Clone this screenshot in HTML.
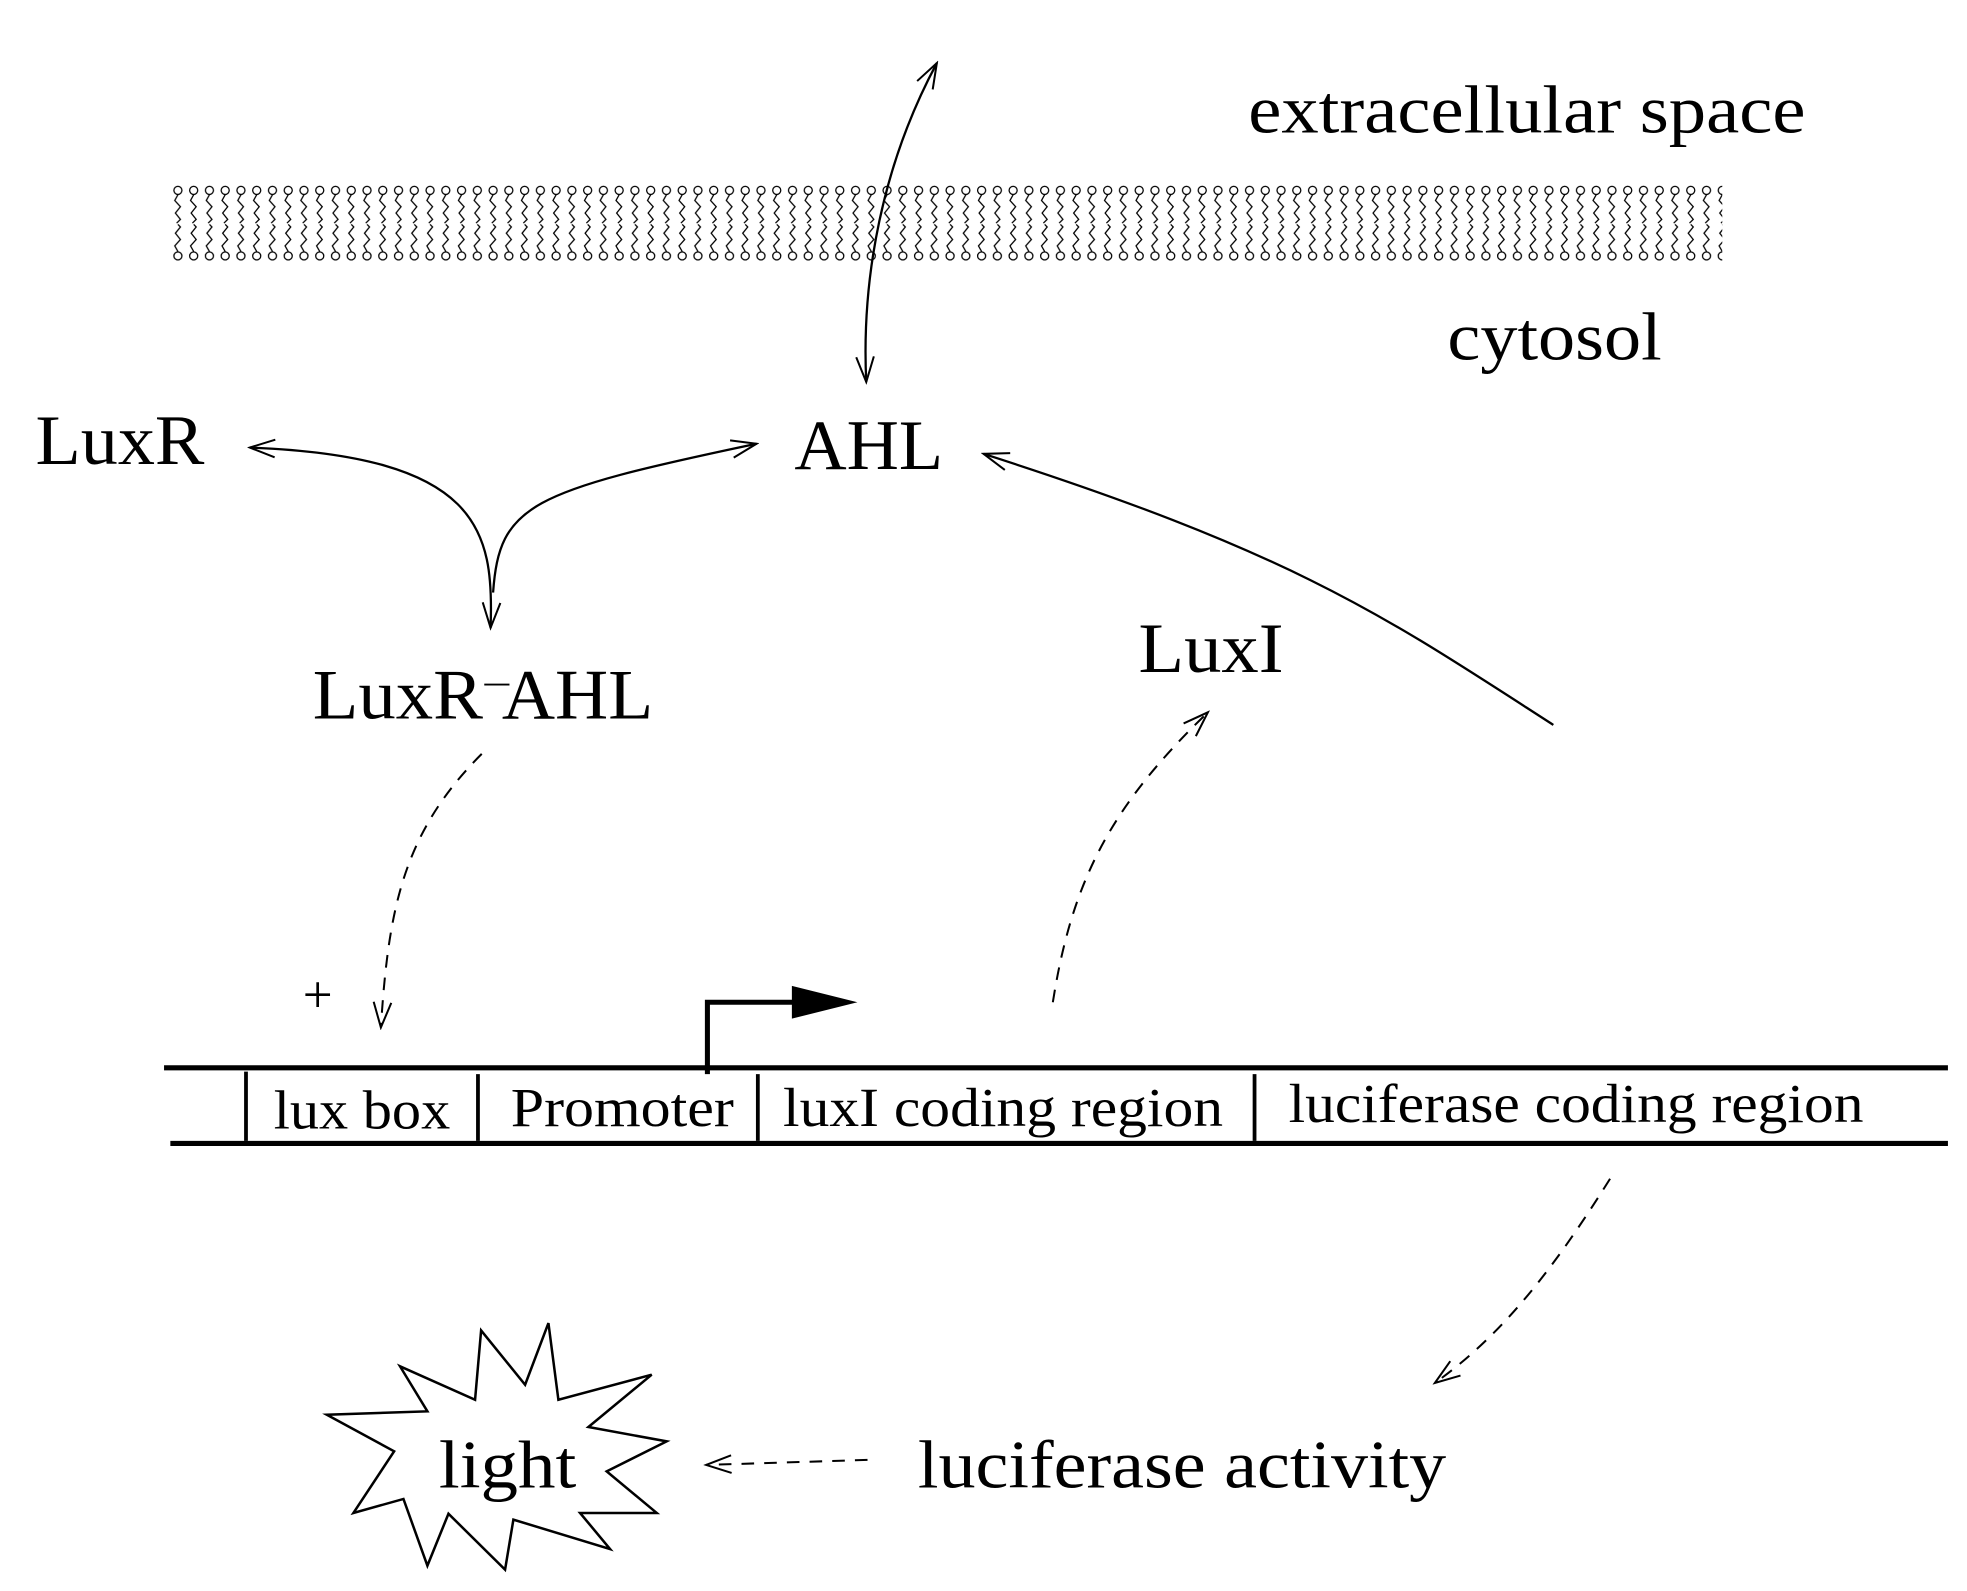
<!DOCTYPE html>
<html><head><meta charset="utf-8"><style>html,body{margin:0;padding:0;background:#fff}svg{display:block}</style></head>
<body>
<svg width="1967" height="1591" viewBox="0 0 1560 1262" xmlns="http://www.w3.org/2000/svg" font-family="'Liberation Serif', serif">
<defs>
<pattern id="lip" x="135" y="0" width="12.5" height="1262" patternUnits="userSpaceOnUse">
<g fill="none" stroke="#000" stroke-width="1">
<circle cx="6" cy="151" r="3.2"/>
<polyline points="6,154.5 3.5,159 8,164 4,169 8,174 5,177"/>
<circle cx="6" cy="203" r="3.2"/>
<polyline points="6,199.5 3.5,195 8,190 4,185 8,180 6,178"/>
</g>
</pattern>
<marker id="ah" markerWidth="24" markerHeight="16" refX="22" refY="8" orient="auto" markerUnits="userSpaceOnUse">
<path d="M2,1 L22,8 L2,15" fill="none" stroke="#000" stroke-width="1.6"/>
</marker>
<marker id="ahs" markerWidth="24" markerHeight="16" refX="22" refY="8" orient="auto-start-reverse" markerUnits="userSpaceOnUse">
<path d="M2,1 L22,8 L2,15" fill="none" stroke="#000" stroke-width="1.6"/>
</marker>
</defs>
<rect width="1560" height="1262" fill="#fff"/>
<rect x="135" y="144" width="1231" height="64" fill="url(#lip)"/>

<g fill="#000">
<text x="990" y="105" font-size="54" textLength="442" lengthAdjust="spacingAndGlyphs">extracellular space</text>
<text x="1148" y="285" font-size="54" textLength="170" lengthAdjust="spacingAndGlyphs">cytosol</text>
<text x="28" y="368" font-size="56" textLength="134" lengthAdjust="spacingAndGlyphs">LuxR</text>
<text x="630" y="372" font-size="56" textLength="118" lengthAdjust="spacingAndGlyphs">AHL</text>
<text x="248" y="570" font-size="56" textLength="135" lengthAdjust="spacingAndGlyphs">LuxR</text>
<text x="398" y="570" font-size="56" textLength="120" lengthAdjust="spacingAndGlyphs">AHL</text>
<text x="903" y="533" font-size="56" textLength="115" lengthAdjust="spacingAndGlyphs">LuxI</text>
<text x="240" y="803" font-size="42">+</text>
<text x="217" y="895" font-size="44" textLength="140" lengthAdjust="spacingAndGlyphs">lux box</text>
<text x="405" y="893" font-size="44" textLength="177" lengthAdjust="spacingAndGlyphs">Promoter</text>
<text x="621" y="893" font-size="44" textLength="349" lengthAdjust="spacingAndGlyphs">luxI coding region</text>
<text x="1022" y="890" font-size="44" textLength="456" lengthAdjust="spacingAndGlyphs">luciferase coding region</text>
<text x="348" y="1180" font-size="54" textLength="109" lengthAdjust="spacingAndGlyphs">light</text>
<text x="728" y="1180" font-size="54" textLength="419" lengthAdjust="spacingAndGlyphs">luciferase activity</text>
</g>
<line x1="384" y1="543" x2="404" y2="543" stroke="#000" stroke-width="1.5"/>

<g stroke="#000" fill="none">
<line x1="130" y1="847" x2="1545" y2="847" stroke-width="4"/>
<line x1="135" y1="907" x2="1545" y2="907" stroke-width="4"/>
<line x1="195" y1="850" x2="195" y2="905" stroke-width="3"/>
<line x1="379" y1="852" x2="379" y2="905" stroke-width="3"/>
<line x1="601" y1="852" x2="601" y2="905" stroke-width="3"/>
<line x1="995" y1="852" x2="995" y2="905" stroke-width="3"/>
<polyline points="561,852 561,795 635,795" stroke-width="4"/>
</g>
<polygon points="628,782 680,795 628,808" fill="#000"/>

<polygon fill="none" stroke="#000" stroke-width="2" points="381.5,1055.3 416.4,1098.4 434.9,1049.5 442.8,1110.3 516.8,1090.4 466.6,1131.9 528.7,1143.3 481.1,1167.1 520.8,1200.1 460,1200.1 483.8,1228.7 407.1,1205.4 400.5,1245.1 355.6,1200.7 338.9,1241.9 319.9,1189 280.2,1200.1 312.5,1151.2 259.1,1122.2 338.9,1119.5 317.2,1083.8 376.7,1110.3"/>

<g stroke="#000" fill="none" stroke-width="1.8">
<path d="M687,303 C683,220 700,130 743,50" marker-start="url(#ahs)" marker-end="url(#ah)"/>
<path d="M389,498 C392,420 380,362 198,355" marker-end="url(#ah)" marker-start="url(#ahs)"/>
<path d="M391,470 C396,400 420,390 600,352" marker-end="url(#ah)"/>
<path d="M1232,575 C1100,490 1030,440 780,360" marker-end="url(#ah)"/>
</g>
<g stroke="#000" fill="none" stroke-width="1.6" stroke-dasharray="10,8">
<path d="M382,598 C320,660 308,720 302,815" marker-end="url(#ah)"/>
<path d="M835,795 C850,700 880,640 958,565" marker-end="url(#ah)"/>
<path d="M1277,935 C1230,1010 1190,1060 1138,1097" marker-end="url(#ah)"/>
<path d="M688,1158 L560,1162" marker-end="url(#ah)"/>
</g>
</svg>
</body></html>
